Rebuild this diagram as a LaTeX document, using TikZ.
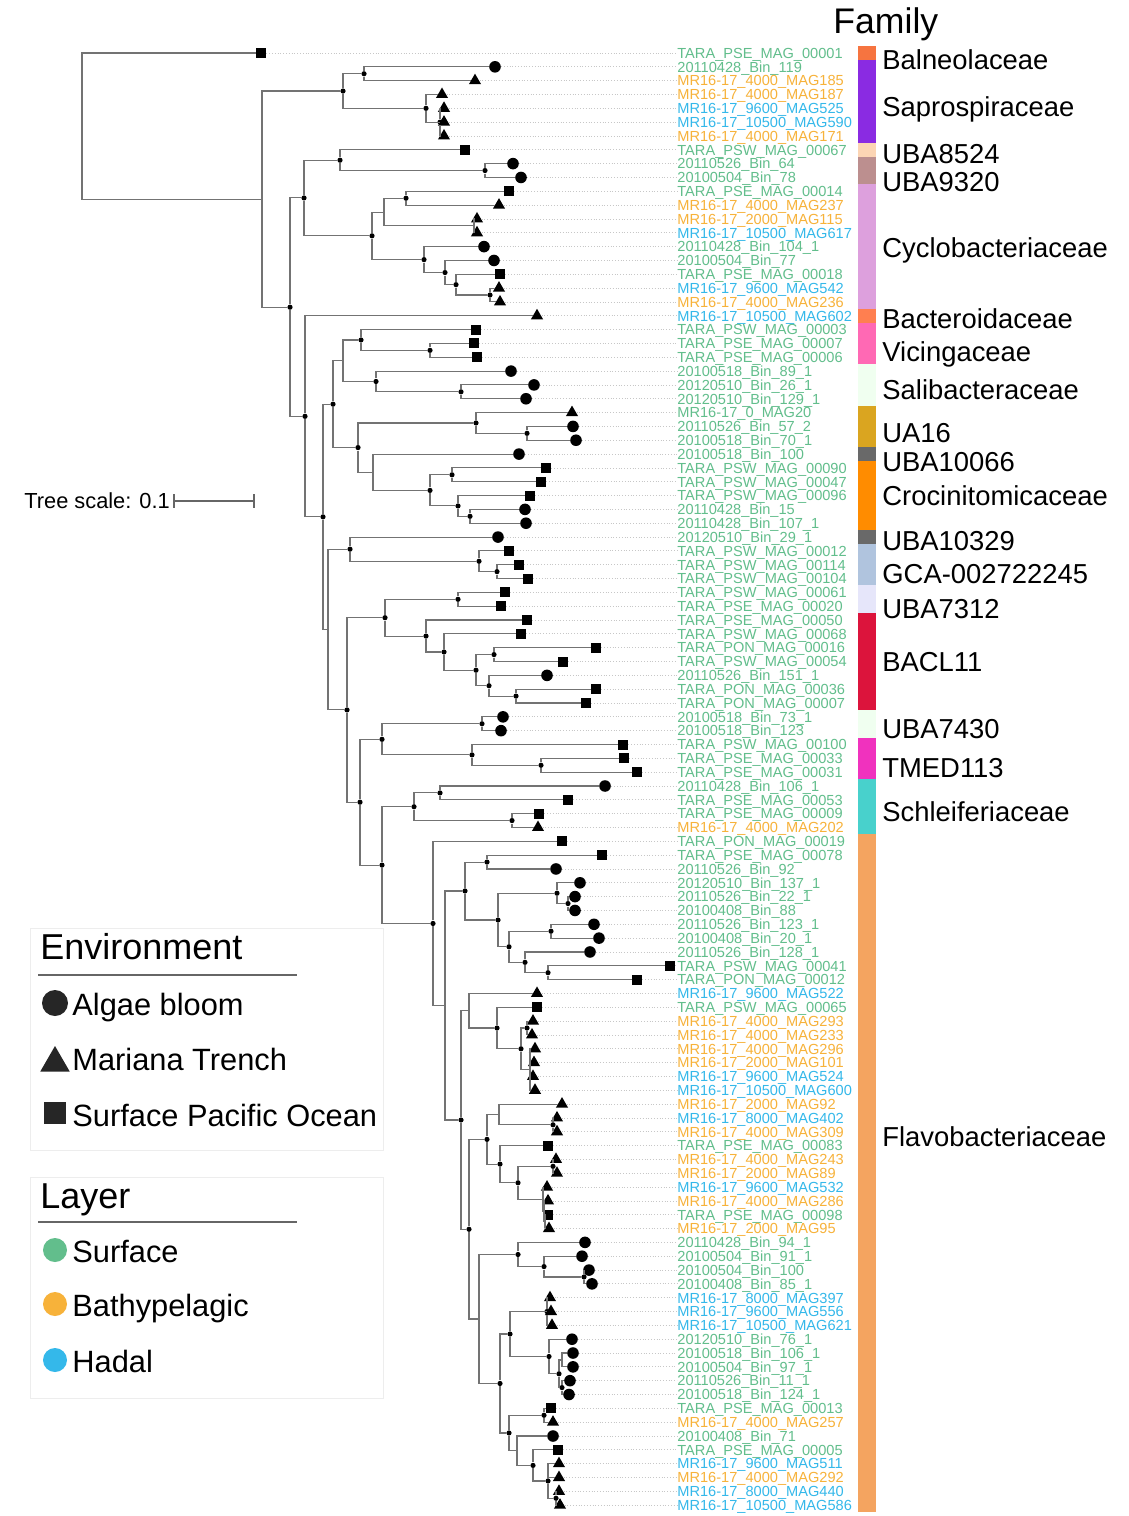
\documentclass[tikz,border=0pt]{standalone}
\usepackage{fontspec}
\setmainfont{Liberation Sans}
\usetikzlibrary{shapes.geometric}

\definecolor{srfcol}{RGB}{98,190,140}
\definecolor{bthcol}{RGB}{247,178,58}
\definecolor{hdlcol}{RGB}{52,184,234}
\definecolor{famBal}{RGB}{246,116,64}
\definecolor{famSap}{RGB}{138,43,226}
\definecolor{famUBAa}{RGB}{252,213,180}
\definecolor{famUBAb}{RGB}{188,143,143}
\definecolor{famCyc}{RGB}{221,160,221}
\definecolor{famBac}{RGB}{255,127,80}
\definecolor{famVic}{RGB}{255,105,180}
\definecolor{famSal}{RGB}{240,255,240}
\definecolor{famUA}{RGB}{218,165,32}
\definecolor{famGrey}{RGB}{105,105,105}
\definecolor{famCro}{RGB}{255,140,0}
\definecolor{famGCA}{RGB}{176,196,222}
\definecolor{famUBAc}{RGB}{230,230,250}
\definecolor{famBACL}{RGB}{220,20,60}
\definecolor{famUBAd}{RGB}{240,255,240}
\definecolor{famTMED}{RGB}{240,50,190}
\definecolor{famSch}{RGB}{72,209,204}
\definecolor{famFla}{RGB}{244,164,96}

\tikzset{
	branch/.style={draw=black!55, line width=0.55pt},
	lead/.style={draw=black!22, densely dotted, line width=0.4pt},
	hub/.style={circle, fill=black, inner sep=0pt, minimum size=2.6pt},
	alg/.style={circle, fill=black, inner sep=0pt, minimum size=5.8pt},
	tri/.style={regular polygon, regular polygon sides=3, fill=black, inner sep=0pt, minimum size=7pt},
	sq/.style={rectangle, fill=black, inner sep=0pt, minimum size=5pt},
	lab/.style={anchor=west, inner sep=0pt, text height=5.3pt, text depth=0pt, font=\fontsize{7.3}{8}\selectfont},
	srf/.style={lab, text=srfcol},
	bth/.style={lab, text=bthcol},
	hdl/.style={lab, text=hdlcol},
	fam/.style={anchor=base west, inner sep=0pt, font=\fontsize{13.7}{16}\selectfont},
	keytext/.style={anchor=base west, inner sep=0pt, font=\fontsize{15.4}{18}\selectfont},
	keyhead/.style={anchor=base west, inner sep=0pt, font=\fontsize{18}{21}\selectfont}
}

\begin{document}
\begin{tikzpicture}[x=0.5pt, y=-0.5pt]
	\fill[white] (0,0) rectangle (1129,1516);
	\useasboundingbox (0,0) rectangle (1129,1516);
	\begin{scope}[y=-6.915pt, yshift=-19.585pt]
		\node[sq] (l1) at (261,1) {}; \node[srf] (t1) at (677,1) {TARA\_PSE\_MAG\_00001};
		\node[alg] (l2) at (495,2) {}; \node[srf] (t2) at (677,2) {20110428\_Bin\_119};
		\node[tri] (l3) at (475,3) {}; \node[bth] (t3) at (677,3) {MR16-17\_4000\_MAG185};
		\node[tri] (l4) at (442,4) {}; \node[bth] (t4) at (677,4) {MR16-17\_4000\_MAG187};
		\node[tri] (l5) at (444,5) {}; \node[hdl] (t5) at (677,5) {MR16-17\_9600\_MAG525};
		\node[tri] (l6) at (444,6) {}; \node[hdl] (t6) at (677,6) {MR16-17\_10500\_MAG590};
		\node[tri] (l7) at (444,7) {}; \node[bth] (t7) at (677,7) {MR16-17\_4000\_MAG171};
		\node[sq] (l8) at (465,8) {}; \node[srf] (t8) at (677,8) {TARA\_PSW\_MAG\_00067};
		\node[alg] (l9) at (513,9) {}; \node[srf] (t9) at (677,9) {20110526\_Bin\_64};
		\node[alg] (l10) at (521,10) {}; \node[srf] (t10) at (677,10) {20100504\_Bin\_78};
		\node[sq] (l11) at (509,11) {}; \node[srf] (t11) at (677,11) {TARA\_PSE\_MAG\_00014};
		\node[tri] (l12) at (499,12) {}; \node[bth] (t12) at (677,12) {MR16-17\_4000\_MAG237};
		\node[tri] (l13) at (477,13) {}; \node[bth] (t13) at (677,13) {MR16-17\_2000\_MAG115};
		\node[tri] (l14) at (477,14) {}; \node[hdl] (t14) at (677,14) {MR16-17\_10500\_MAG617};
		\node[alg] (l15) at (484,15) {}; \node[srf] (t15) at (677,15) {20110428\_Bin\_104\_1};
		\node[alg] (l16) at (494,16) {}; \node[srf] (t16) at (677,16) {20100504\_Bin\_77};
		\node[sq] (l17) at (500,17) {}; \node[srf] (t17) at (677,17) {TARA\_PSE\_MAG\_00018};
		\node[tri] (l18) at (499,18) {}; \node[hdl] (t18) at (677,18) {MR16-17\_9600\_MAG542};
		\node[tri] (l19) at (500,19) {}; \node[bth] (t19) at (677,19) {MR16-17\_4000\_MAG236};
		\node[tri] (l20) at (537,20) {}; \node[hdl] (t20) at (677,20) {MR16-17\_10500\_MAG602};
		\node[sq] (l21) at (476,21) {}; \node[srf] (t21) at (677,21) {TARA\_PSW\_MAG\_00003};
		\node[sq] (l22) at (474,22) {}; \node[srf] (t22) at (677,22) {TARA\_PSE\_MAG\_00007};
		\node[sq] (l23) at (477,23) {}; \node[srf] (t23) at (677,23) {TARA\_PSE\_MAG\_00006};
		\node[alg] (l24) at (511,24) {}; \node[srf] (t24) at (677,24) {20100518\_Bin\_89\_1};
		\node[alg] (l25) at (534,25) {}; \node[srf] (t25) at (677,25) {20120510\_Bin\_26\_1};
		\node[alg] (l26) at (526,26) {}; \node[srf] (t26) at (677,26) {20120510\_Bin\_129\_1};
		\node[tri] (l27) at (572,27) {}; \node[srf] (t27) at (677,27) {MR16-17\_0\_MAG20};
		\node[alg] (l28) at (573,28) {}; \node[srf] (t28) at (677,28) {20110526\_Bin\_57\_2};
		\node[alg] (l29) at (576,29) {}; \node[srf] (t29) at (677,29) {20100518\_Bin\_70\_1};
		\node[alg] (l30) at (519,30) {}; \node[srf] (t30) at (677,30) {20100518\_Bin\_100};
		\node[sq] (l31) at (546,31) {}; \node[srf] (t31) at (677,31) {TARA\_PSW\_MAG\_00090};
		\node[sq] (l32) at (541,32) {}; \node[srf] (t32) at (677,32) {TARA\_PSW\_MAG\_00047};
		\node[sq] (l33) at (530,33) {}; \node[srf] (t33) at (677,33) {TARA\_PSW\_MAG\_00096};
		\node[alg] (l34) at (525,34) {}; \node[srf] (t34) at (677,34) {20110428\_Bin\_15};
		\node[alg] (l35) at (526,35) {}; \node[srf] (t35) at (677,35) {20110428\_Bin\_107\_1};
		\node[alg] (l36) at (498,36) {}; \node[srf] (t36) at (677,36) {20120510\_Bin\_29\_1};
		\node[sq] (l37) at (509,37) {}; \node[srf] (t37) at (677,37) {TARA\_PSW\_MAG\_00012};
		\node[sq] (l38) at (519,38) {}; \node[srf] (t38) at (677,38) {TARA\_PSW\_MAG\_00114};
		\node[sq] (l39) at (528,39) {}; \node[srf] (t39) at (677,39) {TARA\_PSW\_MAG\_00104};
		\node[sq] (l40) at (505,40) {}; \node[srf] (t40) at (677,40) {TARA\_PSW\_MAG\_00061};
		\node[sq] (l41) at (501,41) {}; \node[srf] (t41) at (677,41) {TARA\_PSE\_MAG\_00020};
		\node[sq] (l42) at (527,42) {}; \node[srf] (t42) at (677,42) {TARA\_PSE\_MAG\_00050};
		\node[sq] (l43) at (521,43) {}; \node[srf] (t43) at (677,43) {TARA\_PSW\_MAG\_00068};
		\node[sq] (l44) at (596,44) {}; \node[srf] (t44) at (677,44) {TARA\_PON\_MAG\_00016};
		\node[sq] (l45) at (563,45) {}; \node[srf] (t45) at (677,45) {TARA\_PSW\_MAG\_00054};
		\node[alg] (l46) at (547,46) {}; \node[srf] (t46) at (677,46) {20110526\_Bin\_151\_1};
		\node[sq] (l47) at (596,47) {}; \node[srf] (t47) at (677,47) {TARA\_PON\_MAG\_00036};
		\node[sq] (l48) at (586,48) {}; \node[srf] (t48) at (677,48) {TARA\_PON\_MAG\_00007};
		\node[alg] (l49) at (503,49) {}; \node[srf] (t49) at (677,49) {20100518\_Bin\_73\_1};
		\node[alg] (l50) at (501,50) {}; \node[srf] (t50) at (677,50) {20100518\_Bin\_123};
		\node[sq] (l51) at (623,51) {}; \node[srf] (t51) at (677,51) {TARA\_PSW\_MAG\_00100};
		\node[sq] (l52) at (624,52) {}; \node[srf] (t52) at (677,52) {TARA\_PSE\_MAG\_00033};
		\node[sq] (l53) at (637,53) {}; \node[srf] (t53) at (677,53) {TARA\_PSE\_MAG\_00031};
		\node[alg] (l54) at (605,54) {}; \node[srf] (t54) at (677,54) {20110428\_Bin\_106\_1};
		\node[sq] (l55) at (568,55) {}; \node[srf] (t55) at (677,55) {TARA\_PSE\_MAG\_00053};
		\node[sq] (l56) at (539,56) {}; \node[srf] (t56) at (677,56) {TARA\_PSE\_MAG\_00009};
		\node[tri] (l57) at (538,57) {}; \node[bth] (t57) at (677,57) {MR16-17\_4000\_MAG202};
		\node[sq] (l58) at (562,58) {}; \node[srf] (t58) at (677,58) {TARA\_PON\_MAG\_00019};
		\node[sq] (l59) at (602,59) {}; \node[srf] (t59) at (677,59) {TARA\_PSE\_MAG\_00078};
		\node[alg] (l60) at (556,60) {}; \node[srf] (t60) at (677,60) {20110526\_Bin\_92};
		\node[alg] (l61) at (580,61) {}; \node[srf] (t61) at (677,61) {20120510\_Bin\_137\_1};
		\node[alg] (l62) at (575,62) {}; \node[srf] (t62) at (677,62) {20110526\_Bin\_22\_1};
		\node[alg] (l63) at (575,63) {}; \node[srf] (t63) at (677,63) {20100408\_Bin\_88};
		\node[alg] (l64) at (594,64) {}; \node[srf] (t64) at (677,64) {20110526\_Bin\_123\_1};
		\node[alg] (l65) at (599,65) {}; \node[srf] (t65) at (677,65) {20100408\_Bin\_20\_1};
		\node[alg] (l66) at (590,66) {}; \node[srf] (t66) at (677,66) {20110526\_Bin\_128\_1};
		\node[sq] (l67) at (670,67) {}; \node[srf] (t67) at (677,67) {TARA\_PSW\_MAG\_00041};
		\node[sq] (l68) at (637,68) {}; \node[srf] (t68) at (677,68) {TARA\_PON\_MAG\_00012};
		\node[tri] (l69) at (537,69) {}; \node[hdl] (t69) at (677,69) {MR16-17\_9600\_MAG522};
		\node[sq] (l70) at (537,70) {}; \node[srf] (t70) at (677,70) {TARA\_PSW\_MAG\_00065};
		\node[tri] (l71) at (533,71) {}; \node[bth] (t71) at (677,71) {MR16-17\_4000\_MAG293};
		\node[tri] (l72) at (532,72) {}; \node[bth] (t72) at (677,72) {MR16-17\_4000\_MAG233};
		\node[tri] (l73) at (535,73) {}; \node[bth] (t73) at (677,73) {MR16-17\_4000\_MAG296};
		\node[tri] (l74) at (534,74) {}; \node[bth] (t74) at (677,74) {MR16-17\_2000\_MAG101};
		\node[tri] (l75) at (533,75) {}; \node[hdl] (t75) at (677,75) {MR16-17\_9600\_MAG524};
		\node[tri] (l76) at (535,76) {}; \node[hdl] (t76) at (677,76) {MR16-17\_10500\_MAG600};
		\node[tri] (l77) at (562,77) {}; \node[bth] (t77) at (677,77) {MR16-17\_2000\_MAG92};
		\node[tri] (l78) at (557,78) {}; \node[hdl] (t78) at (677,78) {MR16-17\_8000\_MAG402};
		\node[tri] (l79) at (557,79) {}; \node[bth] (t79) at (677,79) {MR16-17\_4000\_MAG309};
		\node[sq] (l80) at (548,80) {}; \node[srf] (t80) at (677,80) {TARA\_PSE\_MAG\_00083};
		\node[tri] (l81) at (556,81) {}; \node[bth] (t81) at (677,81) {MR16-17\_4000\_MAG243};
		\node[tri] (l82) at (557,82) {}; \node[bth] (t82) at (677,82) {MR16-17\_2000\_MAG89};
		\node[tri] (l83) at (547,83) {}; \node[hdl] (t83) at (677,83) {MR16-17\_9600\_MAG532};
		\node[tri] (l84) at (548,84) {}; \node[bth] (t84) at (677,84) {MR16-17\_4000\_MAG286};
		\node[sq] (l85) at (548,85) {}; \node[srf] (t85) at (677,85) {TARA\_PSE\_MAG\_00098};
		\node[tri] (l86) at (549,86) {}; \node[bth] (t86) at (677,86) {MR16-17\_2000\_MAG95};
		\node[alg] (l87) at (585,87) {}; \node[srf] (t87) at (677,87) {20110428\_Bin\_94\_1};
		\node[alg] (l88) at (582,88) {}; \node[srf] (t88) at (677,88) {20100504\_Bin\_91\_1};
		\node[alg] (l89) at (589,89) {}; \node[srf] (t89) at (677,89) {20100504\_Bin\_100};
		\node[alg] (l90) at (592,90) {}; \node[srf] (t90) at (677,90) {20100408\_Bin\_85\_1};
		\node[tri] (l91) at (550,91) {}; \node[hdl] (t91) at (677,91) {MR16-17\_8000\_MAG397};
		\node[tri] (l92) at (551,92) {}; \node[hdl] (t92) at (677,92) {MR16-17\_9600\_MAG556};
		\node[tri] (l93) at (552,93) {}; \node[hdl] (t93) at (677,93) {MR16-17\_10500\_MAG621};
		\node[alg] (l94) at (572,94) {}; \node[srf] (t94) at (677,94) {20120510\_Bin\_76\_1};
		\node[alg] (l95) at (573,95) {}; \node[srf] (t95) at (677,95) {20100518\_Bin\_106\_1};
		\node[alg] (l96) at (573,96) {}; \node[srf] (t96) at (677,96) {20100504\_Bin\_97\_1};
		\node[alg] (l97) at (570,97) {}; \node[srf] (t97) at (677,97) {20110526\_Bin\_11\_1};
		\node[alg] (l98) at (569,98) {}; \node[srf] (t98) at (677,98) {20100518\_Bin\_124\_1};
		\node[sq] (l99) at (551,99) {}; \node[srf] (t99) at (677,99) {TARA\_PSE\_MAG\_00013};
		\node[tri] (l100) at (553,100) {}; \node[bth] (t100) at (677,100) {MR16-17\_4000\_MAG257};
		\node[alg] (l101) at (553,101) {}; \node[srf] (t101) at (677,101) {20100408\_Bin\_71};
		\node[sq] (l102) at (558,102) {}; \node[srf] (t102) at (677,102) {TARA\_PSE\_MAG\_00005};
		\node[tri] (l103) at (559,103) {}; \node[hdl] (t103) at (677,103) {MR16-17\_9600\_MAG511};
		\node[tri] (l104) at (559,104) {}; \node[bth] (t104) at (677,104) {MR16-17\_4000\_MAG292};
		\node[tri] (l105) at (559,105) {}; \node[hdl] (t105) at (677,105) {MR16-17\_8000\_MAG440};
		\node[tri] (l106) at (560,106) {}; \node[hdl] (t106) at (677,106) {MR16-17\_10500\_MAG586};
		\foreach \i in {1,...,106}
			\draw[lead] (l\i) -- (t\i);

		\coordinate (root) at (82,6.28);
		\coordinate (cA) at (262,11.56);
		\node[hub] (cB) at (343,3.75) {};
		\node[hub] (cD) at (364,2.5) {};
		\node[hub] (cE) at (426,5) {};
		\node[hub] (cF) at (440,6) {};
		\node[hub] (cC) at (290,19.38) {};
		\node[hub] (cH) at (304,11.48) {};
		\node[hub] (cJ) at (340,8.75) {};
		\node[hub] (cL) at (485,9.5) {};
		\node[hub] (cK) at (372,14.22) {};
		\coordinate (cM) at (384,12.5);
		\node[hub] (cMa) at (406,11.5) {};
		\coordinate (cMb) at (474,13.5);
		\node[hub] (cN) at (424,15.94) {};
		\node[hub] (cO) at (445,16.875) {};
		\node[hub] (cP) at (456,17.75) {};
		\node[hub] (cQ) at (490,18.5) {};
		\node[hub] (cI) at (305,27.27) {};
		\node[hub] (cR) at (323,34.54) {};
		\node[hub] (cS) at (333,26.39) {};
		\coordinate (cU) at (343,23.25);
		\node[hub] (cW) at (361,21.75) {};
		\node[hub] (cWb) at (430,22.5) {};
		\node[hub] (cX) at (376,24.75) {};
		\node[hub] (cXb) at (461,25.5) {};
		\node[hub] (cV) at (358,29.53) {};
		\node[hub] (cY) at (476,27.75) {};
		\node[hub] (cYb) at (527,28.5) {};
		\coordinate (cZ) at (373,31.31);
		\node[hub] (cAA) at (430,32.625) {};
		\node[hub] (cAB) at (452,31.5) {};
		\node[hub] (cAC) at (458,33.75) {};
		\node[hub] (cAD) at (470,34.5) {};
		\coordinate (cT) at (328,42.69);
		\node[hub] (cAE) at (350,36.875) {};
		\node[hub] (cAG) at (479,37.75) {};
		\node[hub] (cAGb) at (497,38.5) {};
		\node[hub] (cAF) at (347,48.5) {};
		\node[hub] (cAH) at (385,41.83) {};
		\node[hub] (cAI) at (458,40.5) {};
		\node[hub] (cAJ) at (426,43.16) {};
		\node[hub] (cAK) at (444,44.31) {};
		\node[hub] (cAL) at (476,45.625) {};
		\node[hub] (cAM) at (494,44.5) {};
		\node[hub] (cAN) at (489,46.75) {};
		\node[hub] (cAO) at (516,47.5) {};
		\node[hub] (cAP) at (360,55.17) {};
		\node[hub] (cAQ) at (382,50.625) {};
		\node[hub] (cAS) at (482,49.5) {};
		\node[hub] (cAT) at (472,51.75) {};
		\node[hub] (cAU) at (541,52.5) {};
		\node[hub] (cAR) at (382,59.72) {};
		\node[hub] (cAV) at (414,55.5) {};
		\node[hub] (cAX) at (440,54.5) {};
		\node[hub] (cAY) at (512,56.5) {};
		\node[hub] (cAW) at (433,63.94) {};
		\coordinate (cAZ) at (445,69.87);
		\node[hub] (cBA) at (465,61.59) {};
		\node[hub] (cBB) at (487,59.5) {};
		\node[hub] (cBC) at (498,63.69) {};
		\node[hub] (cBD) at (557,61.75) {};
		\node[hub] (cBF) at (568,62.5) {};
		\node[hub] (cBE) at (509,65.625) {};
		\node[hub] (cBG) at (551,64.5) {};
		\node[hub] (cBH) at (525,66.75) {};
		\node[hub] (cBI) at (548,67.5) {};
		\node[hub] (cBJ) at (461,78.15) {};
		\coordinate (cBK) at (469,70.25);
		\node[hub] (cBL) at (497,71.5) {};
		\node[hub] (cBM) at (521,73) {};
		\node[hub] (cBN) at (527,71.5) {};
		\coordinate (cBO) at (530,74.5);
		\node[hub] (cBP) at (469,86.05) {};
		\node[hub] (cBQ) at (487,79.55) {};
		\coordinate (cBR) at (499,77.75);
		\node[hub] (cBRb) at (553,78.5) {};
		\node[hub] (cBS) at (500,81.34) {};
		\node[hub] (cBT) at (518,82.69) {};
		\node[hub] (cBU) at (553,81.5) {};
		\coordinate (cBV) at (543,83.875);
		\coordinate (cBVb) at (544,84.75);
		\coordinate (cBVc) at (545,85.5);
		\coordinate (cBW) at (479,92.54);
		\node[hub] (cBY) at (518,87.875) {};
		\node[hub] (cBZ) at (544,88.75) {};
		\node[hub] (cCA) at (584,89.5) {};
		\node[hub] (cBX) at (500,97.2) {};
		\node[hub] (cCB) at (510,93.625) {};
		\node[hub] (cCD) at (547,92) {};
		\node[hub] (cCE) at (549,95.25) {};
		\node[hub] (cCF) at (559,96.5) {};
		\coordinate (cCG) at (562,95.5);
		\node[hub] (cCH) at (562,97.5) {};
		\node[hub] (cCC) at (509,100.78) {};
		\node[hub] (cCI) at (544,99.5) {};
		\coordinate (cCJ) at (517,102.06);
		\node[hub] (cCK) at (533,103.125) {};
		\node[hub] (cCL) at (548,104.25) {};
		\node[hub] (cCM) at (556,105.5) {};

		\draw[branch] (root) |- (l1) (root) |- (cA);
		\draw[branch] (cA) |- (cB) (cA) |- (cC);
		\draw[branch] (cB) |- (cD) (cB) |- (cE);
		\draw[branch] (cD) |- (l2) (cD) |- (l3);
		\draw[branch] (cE) |- (l4) (cE) |- (cF);
		\draw[branch] (cF) |- (l5) (cF) -- (l6) (cF) |- (l7);
		\draw[branch] (cC) |- (cH) (cC) |- (cI);
		\draw[branch] (cH) |- (cJ) (cH) |- (cK);
		\draw[branch] (cJ) |- (l8) (cJ) |- (cL);
		\draw[branch] (cL) |- (l9) (cL) |- (l10);
		\draw[branch] (cK) |- (cM) (cK) |- (cN);
		\draw[branch] (cM) |- (cMa) (cM) |- (cMb);
		\draw[branch] (cMa) |- (l11) (cMa) |- (l12);
		\draw[branch] (cMb) |- (l13) (cMb) |- (l14);
		\draw[branch] (cN) |- (l15) (cN) |- (cO);
		\draw[branch] (cO) |- (l16) (cO) |- (cP);
		\draw[branch] (cP) |- (l17) (cP) |- (cQ);
		\draw[branch] (cQ) |- (l18) (cQ) |- (l19);
		\draw[branch] (cI) |- (l20) (cI) |- (cR);
		\draw[branch] (cR) |- (cS) (cR) |- (cT);
		\draw[branch] (cS) |- (cU) (cS) |- (cV);
		\draw[branch] (cU) |- (cW) (cU) |- (cX);
		\draw[branch] (cW) |- (l21) (cW) |- (cWb);
		\draw[branch] (cWb) |- (l22) (cWb) |- (l23);
		\draw[branch] (cX) |- (l24) (cX) |- (cXb);
		\draw[branch] (cXb) |- (l25) (cXb) |- (l26);
		\draw[branch] (cV) |- (cY) (cV) |- (cZ);
		\draw[branch] (cY) |- (l27) (cY) |- (cYb);
		\draw[branch] (cYb) |- (l28) (cYb) |- (l29);
		\draw[branch] (cZ) |- (l30) (cZ) |- (cAA);
		\draw[branch] (cAA) |- (cAB) (cAA) |- (cAC);
		\draw[branch] (cAB) |- (l31) (cAB) |- (l32);
		\draw[branch] (cAC) |- (l33) (cAC) |- (cAD);
		\draw[branch] (cAD) |- (l34) (cAD) |- (l35);
		\draw[branch] (cT) |- (cAE) (cT) |- (cAF);
		\draw[branch] (cAE) |- (l36) (cAE) |- (cAG);
		\draw[branch] (cAG) |- (l37) (cAG) |- (cAGb);
		\draw[branch] (cAGb) |- (l38) (cAGb) |- (l39);
		\draw[branch] (cAF) |- (cAH) (cAF) |- (cAP);
		\draw[branch] (cAH) |- (cAI) (cAH) |- (cAJ);
		\draw[branch] (cAI) |- (l40) (cAI) |- (l41);
		\draw[branch] (cAJ) |- (l42) (cAJ) |- (cAK);
		\draw[branch] (cAK) |- (l43) (cAK) |- (cAL);
		\draw[branch] (cAL) |- (cAM) (cAL) |- (cAN);
		\draw[branch] (cAM) |- (l44) (cAM) |- (l45);
		\draw[branch] (cAN) |- (l46) (cAN) |- (cAO);
		\draw[branch] (cAO) |- (l47) (cAO) |- (l48);
		\draw[branch] (cAP) |- (cAQ) (cAP) |- (cAR);
		\draw[branch] (cAQ) |- (cAS) (cAQ) |- (cAT);
		\draw[branch] (cAS) |- (l49) (cAS) |- (l50);
		\draw[branch] (cAT) |- (l51) (cAT) |- (cAU);
		\draw[branch] (cAU) |- (l52) (cAU) |- (l53);
		\draw[branch] (cAR) |- (cAV) (cAR) |- (cAW);
		\draw[branch] (cAV) |- (cAX) (cAV) |- (cAY);
		\draw[branch] (cAX) |- (l54) (cAX) |- (l55);
		\draw[branch] (cAY) |- (l56) (cAY) |- (l57);
		\draw[branch] (cAW) |- (l58) (cAW) |- (cAZ);
		\draw[branch] (cAZ) |- (cBA) (cAZ) |- (cBJ);
		\draw[branch] (cBA) |- (cBB) (cBA) |- (cBC);
		\draw[branch] (cBB) |- (l59) (cBB) |- (l60);
		\draw[branch] (cBC) |- (cBD) (cBC) |- (cBE);
		\draw[branch] (cBD) |- (l61) (cBD) |- (cBF);
		\draw[branch] (cBF) |- (l62) (cBF) |- (l63);
		\draw[branch] (cBE) |- (cBG) (cBE) |- (cBH);
		\draw[branch] (cBG) |- (l64) (cBG) |- (l65);
		\draw[branch] (cBH) |- (l66) (cBH) |- (cBI);
		\draw[branch] (cBI) |- (l67) (cBI) |- (l68);
		\draw[branch] (cBJ) |- (cBK) (cBJ) |- (cBP);
		\draw[branch] (cBK) |- (l69) (cBK) |- (cBL);
		\draw[branch] (cBL) |- (l70) (cBL) |- (cBM);
		\draw[branch] (cBM) |- (cBN) (cBM) |- (cBO);
		\draw[branch] (cBN) |- (l71) (cBN) |- (l72);
		\draw[branch] (cBO) |- (l73) (cBO) |- (l74) (cBO) |- (l75) (cBO) |- (l76);
		\draw[branch] (cBP) |- (cBQ) (cBP) |- (cBW);
		\draw[branch] (cBQ) |- (cBR) (cBQ) |- (cBS);
		\draw[branch] (cBR) |- (l77) (cBR) |- (cBRb);
		\draw[branch] (cBRb) |- (l78) (cBRb) |- (l79);
		\draw[branch] (cBS) |- (l80) (cBS) |- (cBT);
		\draw[branch] (cBT) |- (cBU) (cBT) |- (cBV);
		\draw[branch] (cBU) |- (l81) (cBU) |- (l82);
		\draw[branch] (cBV) |- (l83) (cBV) |- (cBVb);
		\draw[branch] (cBVb) |- (l84) (cBVb) |- (cBVc);
		\draw[branch] (cBVc) |- (l85) (cBVc) |- (l86);
		\draw[branch] (cBW) |- (cBY) (cBW) |- (cBX);
		\draw[branch] (cBY) |- (l87) (cBY) |- (cBZ);
		\draw[branch] (cBZ) |- (l88) (cBZ) |- (cCA);
		\draw[branch] (cCA) |- (l89) (cCA) |- (l90);
		\draw[branch] (cBX) |- (cCB) (cBX) |- (cCC);
		\draw[branch] (cCB) |- (cCD) (cCB) |- (cCE);
		\draw[branch] (cCD) |- (l91) (cCD) -- (l92) (cCD) |- (l93);
		\draw[branch] (cCE) |- (l94) (cCE) |- (cCF);
		\draw[branch] (cCF) |- (cCG) (cCF) |- (cCH);
		\draw[branch] (cCG) |- (l95) (cCG) |- (l96);
		\draw[branch] (cCH) |- (l97) (cCH) |- (l98);
		\draw[branch] (cCC) |- (cCI) (cCC) |- (cCJ);
		\draw[branch] (cCI) |- (l99) (cCI) |- (l100);
		\draw[branch] (cCJ) |- (l101) (cCJ) |- (cCK);
		\draw[branch] (cCK) |- (l102) (cCK) |- (cCL);
		\draw[branch] (cCL) |- (l103) (cCL) |- (l104) (cCL) |- (cCM);
		\draw[branch] (cCM) |- (l105) (cCM) |- (l106);

		\fill[famBal] (858,0.5) rectangle (876,1.5);
		\fill[famSap] (858,1.5) rectangle (876,7.5);
		\fill[famUBAa] (858,7.5) rectangle (876,8.5);
		\fill[famUBAb] (858,8.5) rectangle (876,10.5);
		\fill[famCyc] (858,10.5) rectangle (876,19.5);
		\fill[famBac] (858,19.5) rectangle (876,20.5);
		\fill[famVic] (858,20.5) rectangle (876,23.5);
		\fill[famSal] (858,23.5) rectangle (876,26.5);
		\fill[famUA] (858,26.5) rectangle (876,29.5);
		\fill[famGrey] (858,29.5) rectangle (876,30.5);
		\fill[famCro] (858,30.5) rectangle (876,35.5);
		\fill[famGrey] (858,35.5) rectangle (876,36.5);
		\fill[famGCA] (858,36.5) rectangle (876,39.5);
		\fill[famUBAc] (858,39.5) rectangle (876,41.5);
		\fill[famBACL] (858,41.5) rectangle (876,48.5);
		\fill[famUBAd] (858,48.5) rectangle (876,50.5);
		\fill[famTMED] (858,50.5) rectangle (876,53.5);
		\fill[famSch] (858,53.5) rectangle (876,57.5);
		\fill[famFla] (858,57.5) rectangle (876,106.5);
	\end{scope}

	\node[anchor=base west, inner sep=0pt, font=\fontsize{17.8}{20}\selectfont] (family) at (833,33) {Family};
	\node[fam] (fBal) at (882,69) {Balneolaceae};
	\node[fam] (fSap) at (882,116) {Saprospiraceae};
	\node[fam] (fUBAa) at (882,163) {UBA8524};
	\node[fam] (fUBAb) at (882,191) {UBA9320};
	\node[fam] (fCyc) at (882,257) {Cyclobacteriaceae};
	\node[fam] (fBac) at (882,328) {Bacteroidaceae};
	\node[fam] (fVic) at (882,361) {Vicingaceae};
	\node[fam] (fSal) at (882,399) {Salibacteraceae};
	\node[fam] (fUA) at (882,442) {UA16};
	\node[fam] (fUBAe) at (882,471) {UBA10066};
	\node[fam] (fCro) at (882,505) {Crocinitomicaceae};
	\node[fam] (fUBAf) at (882,550) {UBA10329};
	\node[fam] (fGCA) at (882,583) {GCA-002722245};
	\node[fam] (fUBAc) at (882,618) {UBA7312};
	\node[fam] (fBACL) at (882,671) {BACL11};
	\node[fam] (fUBAd) at (882,738) {UBA7430};
	\node[fam] (fTMED) at (882,777) {TMED113};
	\node[fam] (fSch) at (882,821) {Schleiferiaceae};
	\node[fam] (fFla) at (882,1146) {Flavobacteriaceae};

	\node[anchor=base west, inner sep=0pt, font=\fontsize{10.9}{13}\selectfont] (scale) at (24,508) {Tree scale: 0.1};
	\draw[black!60, line width=0.6pt] (174,501) -- (254,501) (174,494) -- (174,508) (254,494) -- (254,508);

	\draw[black!7] (30,928) rectangle (383,1150);
	\node[keyhead] (env) at (40,959) {Environment};
	\draw[black!60, line width=0.6pt] (38,975) -- (297,975);
	\node[alg, minimum size=13pt, fill=black!85] (kAlg) at (55,1003) {};
	\node[keytext] (tAlg) at (72,1015) {Algae bloom};
	\node[tri, minimum size=17pt, fill=black!85] (kMar) at (55,1063) {};
	\node[keytext] (tMar) at (72,1070) {Mariana Trench};
	\node[sq, minimum size=11pt, fill=black!85] (kSpo) at (55,1113) {};
	\node[keytext] (tSpo) at (72,1126) {Surface Pacific Ocean};

	\draw[black!7] (30,1177) rectangle (383,1398);
	\node[keyhead] (layer) at (40,1208) {Layer};
	\draw[black!60, line width=0.6pt] (38,1222) -- (297,1222);
	\node[alg, minimum size=12pt, fill=srfcol] (kSrf) at (55,1250) {};
	\node[keytext] (tSrf) at (72,1262) {Surface};
	\node[alg, minimum size=12pt, fill=bthcol] (kBth) at (55,1304) {};
	\node[keytext] (tBth) at (72,1316) {Bathypelagic};
	\node[alg, minimum size=12pt, fill=hdlcol] (kHdl) at (55,1360) {};
	\node[keytext] (tHdl) at (72,1372) {Hadal};
\end{tikzpicture}
\end{document}
